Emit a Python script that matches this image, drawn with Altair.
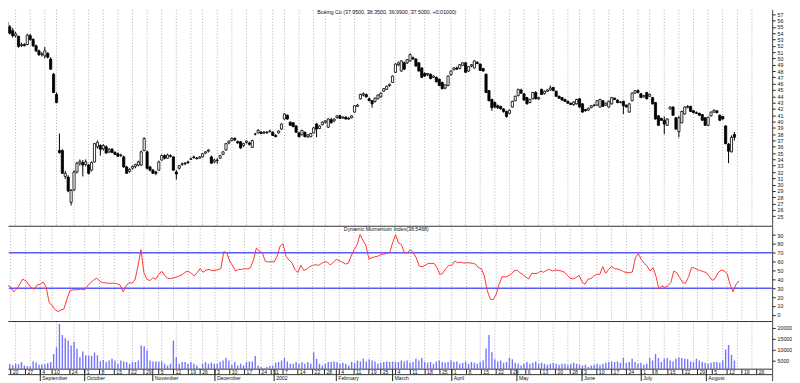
import altair as alt
import pandas as pd

# ---------------- calendar (trading days, index 0 = 2001-08-15) ----------------
closed_days = ["2001-09-03", "2001-09-11", "2001-09-12", "2001-09-13", "2001-09-14",
               "2001-11-22", "2001-12-25", "2002-01-01", "2002-01-21", "2002-02-18",
               "2002-03-29", "2002-05-27", "2002-07-04"]
trading_days = [d.strftime("%Y-%m-%d") for d in pd.bdate_range("2001-08-15", "2002-08-30")
                if d.strftime("%Y-%m-%d") not in closed_days]
pos = {d: k for k, d in enumerate(trading_days)}

# ---------------- price data ----------------
opens = [55.8, 55.0, 54.4, 53.6, 53.5, 52.0, 52.2, 52.2, 53.6, 53.0,
         52.0, 51.2, 50.6, 50.4, 50.8, 49.9, 47.5, 44.3, 35.4, 35.4,
         31.3, 31.2, 27.2, 29.2, 32.0, 33.4, 33.5, 33.2, 33.1, 32.3,
         33.6, 36.0, 36.2, 35.7, 36.0, 35.2, 35.6, 35.1, 34.9, 34.6,
         34.4, 32.8, 32.1, 32.6, 32.9, 33.1, 33.1, 35.4, 35.2, 32.8,
         32.3, 32.0, 32.3, 33.9, 34.6, 34.2, 34.6, 34.4, 32.0, 32.6,
         33.2, 33.3, 33.6, 34.0, 34.4, 34.2, 34.2, 34.4, 35.0, 35.3,
         34.4, 33.6, 33.8, 34.2, 34.8, 35.5, 36.6, 37.0, 37.3, 36.8,
         36.8, 36.2, 36.7, 36.6, 35.9, 38.0, 38.2, 38.3, 38.2, 38.3,
         38.4, 38.3, 37.8, 38.2, 38.8, 40.4, 41.0, 39.9, 39.8, 39.3,
         38.2, 37.9, 38.3, 37.6, 37.6, 38.2, 39.6, 38.9, 39.5, 39.9,
         39.1, 40.3, 40.1, 40.6, 40.9, 40.6, 40.7, 40.5, 40.6, 41.5,
         42.4, 43.6, 44.2, 44.3, 43.6, 43.3, 43.2, 43.6, 43.9, 44.8,
         45.1, 45.7, 46.2, 47.8, 49.0, 48.0, 49.3, 49.3, 49.6, 50.1,
         49.9, 49.3, 48.5, 47.6, 47.4, 47.5, 47.0, 47.0, 46.7, 46.2,
         45.3, 45.7, 47.4, 48.2, 48.5, 48.4, 48.9, 49.3, 48.0, 48.8,
         48.5, 49.4, 49.1, 48.4, 47.5, 44.9, 43.5, 43.0, 42.5, 42.4,
         42.0, 41.6, 41.3, 42.3, 43.3, 44.1, 45.0, 44.4, 43.8, 43.0,
         43.6, 44.6, 43.6, 45.1, 44.4, 44.8, 45.0, 45.4, 44.8, 44.0,
         43.8, 43.5, 43.2, 42.9, 42.7, 42.8, 43.6, 42.8, 41.9, 41.8,
         42.2, 42.5, 42.6, 42.3, 43.3, 42.6, 42.3, 42.8, 43.7, 43.4,
         43.0, 43.2, 42.6, 41.5, 43.3, 44.5, 44.9, 44.4, 43.9, 44.6,
         44.0, 43.8, 43.0, 40.9, 40.5, 40.2, 39.4, 42.0, 42.3, 40.6,
         38.4, 39.8, 41.2, 42.2, 42.4, 41.7, 41.4, 41.3, 41.1, 40.6,
         39.4, 40.9, 41.5, 41.7, 41.0, 40.8, 39.3, 36.4, 35.2, 37.95]
highs = [56.3, 55.3, 54.8, 54.2, 53.6, 52.5, 52.4, 53.9, 53.9, 53.2,
         52.2, 51.4, 51.0, 51.8, 51.0, 50.2, 47.7, 44.6, 38.1, 35.6,
         32.2, 31.5, 29.3, 32.3, 33.6, 34.0, 33.9, 34.0, 33.3, 33.7,
         36.6, 37.0, 36.4, 36.4, 36.2, 35.8, 35.8, 35.3, 35.1, 34.9,
         34.6, 33.0, 32.6, 33.0, 33.3, 33.8, 35.4, 37.5, 35.4, 33.0,
         32.5, 32.2, 33.8, 34.8, 34.8, 34.9, 34.8, 34.5, 32.3, 33.1,
         33.5, 33.6, 33.8, 34.3, 34.6, 34.4, 34.5, 35.0, 35.3, 35.6,
         34.6, 34.1, 34.2, 34.7, 35.3, 36.6, 37.0, 37.5, 37.5, 37.0,
         36.9, 36.6, 37.0, 36.8, 37.1, 38.2, 38.8, 38.5, 38.5, 38.5,
         38.7, 38.5, 38.0, 38.6, 39.7, 41.3, 41.1, 40.0, 39.9, 39.4,
         38.4, 38.7, 38.4, 38.0, 38.2, 39.1, 39.8, 39.4, 40.0, 40.2,
         40.5, 40.6, 40.5, 41.0, 41.0, 40.8, 40.8, 40.7, 41.0, 42.6,
         42.8, 44.4, 44.6, 44.4, 43.8, 43.4, 43.8, 44.3, 44.6, 45.3,
         45.7, 46.0, 47.3, 49.2, 49.5, 49.7, 49.5, 49.9, 50.8, 50.3,
         50.0, 49.4, 48.6, 47.8, 47.7, 47.6, 47.3, 47.1, 46.8, 46.3,
         45.9, 47.3, 48.1, 48.6, 48.7, 49.1, 49.4, 49.4, 48.8, 49.1,
         49.7, 49.5, 49.2, 48.5, 47.6, 45.0, 43.6, 43.2, 42.7, 42.5,
         42.1, 41.7, 41.9, 43.3, 44.1, 45.2, 45.2, 44.5, 43.9, 43.6,
         44.7, 44.8, 43.9, 45.2, 44.9, 45.1, 45.7, 45.5, 44.9, 44.1,
         43.9, 43.6, 43.3, 43.0, 43.2, 43.6, 43.7, 42.9, 42.0, 42.2,
         42.6, 42.8, 43.4, 43.6, 43.4, 43.0, 43.3, 43.9, 43.8, 43.5,
         43.2, 43.3, 42.7, 42.9, 44.6, 45.0, 45.1, 44.5, 44.2, 44.7,
         44.4, 43.9, 43.1, 41.0, 40.6, 40.8, 40.5, 42.4, 42.4, 40.7,
         40.9, 41.7, 42.4, 42.6, 42.5, 41.8, 41.6, 41.4, 41.2, 40.7,
         40.8, 41.6, 41.9, 41.8, 41.1, 40.9, 39.4, 36.6, 37.8, 38.35]
lows = [54.8, 53.8, 53.3, 53.3, 51.7, 51.8, 51.9, 52.1, 52.8, 51.8,
        51.0, 50.4, 50.3, 50.0, 50.0, 48.2, 44.5, 42.9, 34.9, 31.7,
        30.9, 28.8, 26.7, 29.0, 31.8, 33.0, 31.3, 32.9, 31.6, 32.1,
        33.5, 35.7, 34.6, 35.4, 34.9, 35.0, 35.0, 34.7, 34.4, 34.4,
        32.7, 31.7, 31.9, 32.4, 32.6, 32.9, 33.0, 35.3, 32.4, 32.1,
        31.7, 31.5, 32.2, 33.8, 34.0, 34.1, 34.3, 32.2, 30.8, 32.4,
        33.0, 33.1, 33.3, 33.9, 34.1, 34.0, 34.1, 34.3, 34.9, 35.1,
        33.3, 33.4, 33.3, 34.1, 34.7, 35.4, 36.4, 36.9, 36.9, 36.5,
        35.7, 36.0, 36.5, 36.2, 35.8, 37.8, 38.1, 38.0, 38.0, 38.1,
        38.3, 37.7, 37.5, 38.1, 38.7, 40.3, 40.3, 39.3, 39.1, 38.2,
        37.5, 37.8, 37.5, 37.4, 37.5, 38.1, 37.5, 38.8, 39.4, 39.7,
        39.0, 39.7, 39.9, 40.5, 40.4, 40.4, 40.3, 40.3, 40.5, 41.4,
        42.3, 43.5, 44.0, 43.8, 43.2, 42.2, 43.0, 43.5, 43.8, 44.7,
        45.0, 45.5, 46.1, 47.7, 48.8, 47.9, 48.2, 49.1, 49.5, 49.8,
        48.7, 47.9, 46.9, 47.1, 47.2, 46.7, 46.9, 46.2, 45.6, 45.1,
        45.1, 45.6, 47.3, 48.1, 48.2, 48.3, 48.8, 47.7, 47.9, 48.6,
        48.4, 49.1, 48.0, 47.9, 44.5, 43.2, 41.7, 42.1, 42.0, 41.9,
        41.4, 40.6, 41.2, 42.2, 43.2, 44.0, 44.4, 43.3, 42.7, 42.9,
        43.5, 43.5, 43.4, 44.2, 44.3, 44.7, 44.9, 44.8, 43.9, 43.6,
        43.3, 43.1, 42.8, 42.6, 42.5, 42.7, 42.2, 41.4, 41.6, 41.7,
        42.1, 42.4, 42.5, 42.2, 42.3, 42.5, 42.2, 42.7, 43.4, 42.9,
        42.9, 41.2, 42.2, 41.4, 43.2, 44.4, 44.5, 43.7, 43.8, 43.5,
        43.9, 42.7, 40.3, 39.3, 40.1, 38.0, 39.3, 41.9, 40.9, 38.7,
        37.5, 39.7, 41.1, 42.1, 41.5, 41.3, 41.2, 40.9, 40.1, 39.3,
        39.3, 40.8, 41.4, 41.3, 40.1, 40.3, 36.4, 33.4, 35.1, 36.99]
closes = [55.0, 54.0, 53.6, 53.9, 51.9, 52.2, 52.0, 53.7, 53.0, 52.0,
          51.2, 50.6, 50.7, 51.2, 50.2, 48.3, 44.6, 43.0, 35.1, 31.8,
          31.8, 29.0, 29.1, 32.0, 33.4, 33.7, 33.1, 33.6, 31.8, 33.5,
          36.5, 36.7, 35.6, 36.2, 35.0, 35.6, 35.1, 34.8, 34.5, 34.7,
          32.8, 31.8, 32.4, 32.9, 33.2, 33.6, 35.2, 37.3, 32.6, 32.3,
          31.8, 31.8, 33.6, 34.6, 34.2, 34.7, 34.5, 32.3, 31.7, 33.0,
          33.3, 33.4, 33.5, 34.1, 34.3, 34.1, 34.4, 34.9, 35.2, 35.5,
          33.4, 33.9, 33.9, 34.6, 35.2, 36.5, 36.9, 37.3, 37.1, 36.6,
          35.8, 36.5, 36.9, 36.4, 37.0, 38.0, 38.6, 38.1, 38.3, 38.2,
          38.5, 37.8, 37.6, 38.5, 39.6, 41.2, 40.4, 39.4, 39.2, 38.3,
          37.6, 38.6, 37.6, 37.9, 38.1, 39.0, 38.8, 39.3, 39.9, 40.1,
          40.4, 39.8, 40.4, 40.9, 40.5, 40.7, 40.4, 40.4, 40.9, 42.5,
          42.6, 44.3, 44.4, 43.9, 43.3, 42.8, 43.7, 44.2, 44.5, 45.2,
          45.6, 45.9, 47.2, 49.1, 49.3, 49.6, 48.3, 49.8, 50.6, 49.9,
          48.8, 48.0, 47.0, 47.2, 47.6, 46.8, 47.2, 46.3, 45.7, 45.2,
          45.8, 47.2, 48.0, 48.5, 48.3, 49.0, 49.3, 47.8, 48.7, 49.0,
          49.6, 49.2, 48.1, 48.0, 44.6, 43.3, 42.2, 42.3, 42.2, 42.0,
          41.6, 40.8, 41.8, 43.2, 44.0, 45.1, 44.5, 43.4, 42.8, 43.5,
          44.6, 43.6, 43.8, 44.3, 44.8, 45.0, 45.3, 44.9, 44.0, 43.7,
          43.4, 43.2, 42.9, 42.7, 43.1, 43.5, 42.3, 41.5, 41.7, 42.1,
          42.5, 42.6, 43.3, 43.5, 42.4, 42.9, 43.2, 43.8, 43.5, 43.0,
          43.1, 42.5, 42.3, 42.8, 44.5, 44.9, 44.6, 43.8, 44.1, 43.6,
          44.3, 42.8, 40.4, 39.4, 40.2, 39.6, 40.4, 42.3, 41.0, 38.8,
          40.6, 41.6, 42.3, 42.4, 41.6, 41.4, 41.3, 41.0, 40.2, 39.4,
          40.7, 41.5, 41.8, 41.4, 40.2, 40.4, 36.5, 35.3, 37.49, 37.50]

# Dynamic Momentum Index
dmi = [32.8, 37.6, 33.5, 31.3, 26.0, 29.0, 34.2, 40.2, 38.7, 34.6,
       30.5, 29.0, 33.9, 34.6, 37.2, 30.9, 14.1, 10.4, 5.9, 3.7,
       5.5, 6.7, 17.8, 27.2, 28.3, 28.3, 28.7, 29.0, 28.3, 32.8,
       36.5, 39.1, 41.7, 38.3, 36.5, 36.1, 35.7, 35.7, 35.7, 35.0,
       33.5, 26.0, 32.8, 36.5, 35.7, 39.5, 55.1, 73.7, 47.7, 40.2,
       38.7, 41.7, 40.2, 45.8, 49.2, 44.7, 41.3, 41.0, 41.7, 42.8,
       43.9, 45.4, 48.4, 49.2, 47.0, 43.9, 47.7, 52.2, 48.1, 50.6,
       51.4, 49.9, 50.3, 51.0, 52.2, 71.5, 70.0, 60.7, 55.1, 49.5,
       51.4, 51.4, 52.2, 51.8, 53.3, 61.8, 75.6, 71.9, 70.0, 60.7,
       59.6, 60.3, 59.6, 66.3, 77.5, 80.4, 66.3, 61.8, 58.8, 51.4,
       47.7, 55.9, 50.3, 51.4, 54.4, 55.9, 56.6, 55.9, 58.1, 59.9,
       59.6, 56.2, 59.6, 62.6, 61.1, 59.6, 57.4, 58.1, 66.3, 73.7,
       78.9, 90.5, 84.2, 78.2, 63.3, 64.4, 65.5, 66.3, 67.8, 68.5,
       69.3, 70.0, 81.2, 90.5, 81.2, 79.3, 70.0, 70.0, 73.7, 70.0,
       64.4, 55.1, 54.4, 55.9, 58.1, 58.1, 58.1, 53.3, 45.4, 47.3,
       52.2, 55.9, 55.9, 60.7, 58.8, 59.6, 58.4, 58.8, 58.8, 58.1,
       57.4, 53.3, 52.2, 43.9, 27.2, 17.8, 17.1, 23.4, 34.6, 43.2,
       42.8, 43.9, 45.8, 49.5, 50.6, 47.7, 45.4, 42.8, 40.6, 47.0,
       46.6, 47.0, 49.5, 48.1, 50.3, 51.4, 49.5, 50.6, 50.3, 49.5,
       48.4, 44.7, 41.3, 40.6, 42.1, 44.7, 37.2, 34.6, 40.2, 41.0,
       43.9, 45.8, 45.8, 54.4, 47.0, 51.4, 54.8, 52.2, 51.8, 50.6,
       48.8, 47.7, 47.7, 48.4, 64.4, 69.3, 62.6, 58.1, 55.1, 49.5,
       53.3, 43.2, 29.0, 32.8, 30.9, 32.8, 36.5, 49.5, 47.7, 42.1,
       36.5, 35.7, 43.2, 53.3, 52.9, 51.0, 49.9, 48.8, 47.7, 43.2,
       39.1, 41.3, 47.7, 50.6, 49.5, 46.6, 34.6, 26.0, 34.2, 38.5]
dmi_levels = [30, 70]

# Volume
volumes = [3500, 3400, 2800, 3500, 3300, 4300, 2700, 2300, 2300, 4600,
           4000, 3000, 3200, 3300, 3700, 4300, 8000, 11000, 21700, 16700,
           15200, 14100, 11800, 13400, 10300, 6500, 9100, 7400, 7100, 7100,
           8600, 7400, 4600, 5200, 4300, 5000, 5800, 5000, 3500, 5000,
           4500, 4300, 3500, 4300, 4300, 5000, 11800, 11500, 9500, 5000,
           4500, 4500, 4500, 4500, 3500, 2700, 3500, 14100, 6500, 3500,
           4300, 4300, 3500, 4300, 3500, 2700, 1300, 3500, 4300, 3500,
           3900, 3500, 3500, 4300, 5000, 6100, 5000, 3000, 4300, 2700,
           3500, 2700, 4300, 4500, 4500, 7000, 2700, 2000, 1500, 2000,
           2400, 2700, 3900, 4300, 5000, 6100, 4500, 3500, 3500, 4300,
           3500, 4300, 3500, 4300, 3500, 8800, 5800, 3500, 2700, 3500,
           4300, 4300, 4500, 4300, 3500, 3900, 3500, 2700, 4300, 3900,
           5000, 4500, 5800, 4500, 5500, 5000, 4500, 3500, 3900, 4300,
           4500, 4300, 4500, 4300, 4300, 5000, 4500, 5000, 3900, 4300,
           5800, 5000, 6100, 4300, 3900, 4300, 3500, 4500, 5000, 4300,
           3900, 4300, 5000, 4300, 4500, 3500, 3900, 4500, 3500, 4300,
           3900, 3500, 4300, 5000, 10500, 16700, 8800, 5500, 4500, 5000,
           3900, 4300, 6100, 5500, 3900, 3500, 2700, 3500, 4300, 3500,
           3900, 4500, 3500, 3900, 3500, 3000, 3500, 3900, 3500, 3000,
           3500, 3500, 3000, 3500, 3900, 3500, 3000, 2700, 3000, 2000,
           2700, 3000, 3500, 3000, 3500, 3900, 4300, 4500, 4300, 4500,
           3900, 6100, 3900, 4300, 5800, 4300, 3500, 3900, 3000, 3500,
           6100, 5000, 8000, 6100, 4300, 5800, 6100, 5000, 4500, 5800,
           6500, 6100, 5800, 5500, 4500, 4300, 5800, 5000, 4300, 3900,
           3500, 3900, 4300, 4300, 3900, 5000, 10000, 12100, 7600, 5000]

# Axis tick labels
week_dates = ["2001-08-20", "2001-08-27", "2001-09-04", "2001-09-10", "2001-09-24",
              "2001-10-01", "2001-10-08", "2001-10-15", "2001-10-22", "2001-10-29",
              "2001-11-05", "2001-11-12", "2001-11-19", "2001-11-26",
              "2001-12-03", "2001-12-10", "2001-12-17", "2001-12-24", "2001-12-31",
              "2002-01-07", "2002-01-14", "2002-01-22", "2002-01-28",
              "2002-02-04", "2002-02-11", "2002-02-19", "2002-02-25",
              "2002-03-04", "2002-03-11", "2002-03-18", "2002-03-25",
              "2002-04-01", "2002-04-08", "2002-04-15", "2002-04-22", "2002-04-29",
              "2002-05-06", "2002-05-13", "2002-05-20", "2002-05-28",
              "2002-06-03", "2002-06-10", "2002-06-17", "2002-06-24",
              "2002-07-01", "2002-07-08", "2002-07-15", "2002-07-22", "2002-07-29",
              "2002-08-05", "2002-08-12", "2002-08-19", "2002-08-26"]
week_labels = ["20", "27", "4", "10", "24", "1", "8", "15", "22", "29", "5", "12", "19", "26",
               "3", "10", "17", "24", "31", "7", "14", "22", "28", "4", "11", "19", "25",
               "4", "11", "18", "25", "1", "8", "15", "22", "29", "6", "13", "20", "28",
               "3", "10", "17", "24", "1", "8", "15", "22", "29", "5", "12", "19", "26"]
month_dates = ["2001-09-04", "2001-10-01", "2001-11-01", "2001-12-03", "2002-01-02", "2002-02-01",
               "2002-03-01", "2002-04-01", "2002-05-01", "2002-06-03", "2002-07-01", "2002-08-01"]
month_labels = ["September", "October", "November", "December", "2002", "February",
                "March", "April", "May", "June", "July", "August"]
price_ticks = list(range(25, 58))
dmi_ticks = [0, 10, 20, 30, 40, 50, 60, 70, 80, 90]
vol_ticks = [5000, 10000, 15000, 20000]
title_price = "Boeing Co (37.9500, 38.3500, 36.9900, 37.5000, +0.01000)"
title_dmi = "Dynamic Momentum Index(38.5468)"

# ---------------- tables ----------------
n = len(closes)
bars = pd.DataFrame({"i": list(range(n)), "open": opens, "high": highs, "low": lows,
                     "close": closes, "dmi": dmi, "vol": volumes})
bars["dir"] = ["up" if c >= o else "down" for o, c in zip(opens, closes)]
weeks = pd.DataFrame({"i": [pos[d] for d in week_dates], "lab": week_labels})
months = pd.DataFrame({"i": [pos[d] for d in month_dates], "lab": month_labels})
one = pd.DataFrame({"k": [0]})

# ---------------- layout ----------------
FONT = "Liberation Sans"
W = 770
H1, H2, H3, H4 = 218, 96, 48, 13
xsc = alt.Scale(domain=[2.095, 260.22], nice=False, zero=False)
X = alt.X("i:Q", scale=xsc, axis=None)
psc = alt.Scale(domain=[23.486, 57.762], nice=False, zero=False)
dsc = alt.Scale(domain=[-6.97, 100.59], nice=False, zero=False)
vsc = alt.Scale(domain=[1228, 23044], nice=False, zero=False)


def raxis(values):
    return alt.Axis(orient="right", values=values, title=None, grid=False, format="d",
                    labelFont=FONT, labelFontSize=5.3, labelColor="#111", labelPadding=2,
                    labelOverlap=False, labelFlush=False, tickSize=3, tickColor="#222",
                    domainColor="#444", minExtent=0)


def vgrid(h):
    return alt.Chart(weeks).mark_rule(color="#b0b0b0", strokeDash=[1, 2], strokeWidth=1).encode(
        x=X, y=alt.value(0.5), y2=alt.value(h - 0.5))


def hsep(y):
    return alt.Chart(one).mark_rule(color="#333333", strokeWidth=1).encode(
        x=alt.value(0.5), x2=alt.value(W), y=alt.value(y))


def text_at(txt, x, y):
    return alt.Chart(one).mark_text(text=txt, font=FONT, fontSize=5.3, color="#111",
                                    align="center", baseline="top").encode(
        x=alt.value(x), y=alt.value(y))


# price panel
wick = alt.Chart(bars).mark_rule(color="#000", strokeWidth=1, clip=True).encode(
    x=X, y=alt.Y("low:Q", scale=psc, axis=raxis(price_ticks)), y2="high:Q")
body = alt.Chart(bars).mark_bar(size=2.2, stroke="#000", strokeWidth=0.8, clip=True).encode(
    x=X, y=alt.Y("open:Q", scale=psc, axis=raxis(price_ticks)), y2="close:Q",
    fill=alt.Fill("dir:N", scale=alt.Scale(domain=["up", "down"], range=["#ffffff", "#000000"]),
                  legend=None))
price = alt.layer(vgrid(H1), wick, body, text_at(title_price, 381.7, 0.5)).properties(width=W, height=H1)

# DMI panel
levels = alt.Chart(pd.DataFrame({"lvl": dmi_levels})).mark_rule(color="#5a5aff", strokeWidth=1.5).encode(
    x=alt.value(0.8), x2=alt.value(W),
    y=alt.Y("lvl:Q", scale=dsc, axis=raxis(dmi_ticks)))
dline = alt.Chart(bars).mark_line(color="#ff3333", strokeWidth=1, clip=True).encode(
    x=X, y=alt.Y("dmi:Q", scale=dsc, axis=raxis(dmi_ticks)))
dmi_panel = alt.layer(vgrid(H2), levels, dline, hsep(0.5), text_at(title_dmi, 381.2, 1.2)).properties(
    width=W, height=H2)

# volume panel
vbars = alt.Chart(bars).mark_bar(size=1.4, color="#7474ff", clip=True).encode(
    x=X, y=alt.Y("vol:Q", scale=vsc, axis=raxis(vol_ticks)), y2=alt.value(H3))
vol_panel = alt.layer(vgrid(H3), vbars, hsep(0.5)).properties(width=W, height=H3)

# date band
wk_ticks = alt.Chart(weeks).mark_rule(color="#222", strokeWidth=1).encode(
    x=X, y=alt.value(0.5), y2=alt.value(6))
wk_text = alt.Chart(weeks).mark_text(align="left", baseline="middle", dx=2, font=FONT,
                                     fontSize=5.2, color="#111").encode(
    x=X, y=alt.value(3), text="lab:N")
mo_ticks = alt.Chart(months).mark_rule(color="#222", strokeWidth=1).encode(
    x=X, y=alt.value(0.5), y2=alt.value(H4 - 0.5))
mo_text = alt.Chart(months).mark_text(align="left", baseline="middle", dx=2, font=FONT,
                                      fontSize=5.2, color="#111").encode(
    x=X, y=alt.value(9.3), text="lab:N")
right_edge = alt.Chart(one).mark_rule(color="#444", strokeWidth=1).encode(
    x=alt.value(W + 0.5), y=alt.value(0.5), y2=alt.value(H4 - 0.5))
date_panel = alt.layer(wk_ticks, wk_text, mo_ticks, mo_text, hsep(0.5), hsep(6),
                       right_edge).properties(width=W, height=H4)

chart = alt.vconcat(price, dmi_panel, vol_panel, date_panel, spacing=0, padding=0,
                    bounds="flush").resolve_scale(
    x="independent", y="independent").configure_view(stroke=None).configure_axis(minExtent=0)

chart.save("out.html", embed_options={"renderer": "svg", "actions": False})
